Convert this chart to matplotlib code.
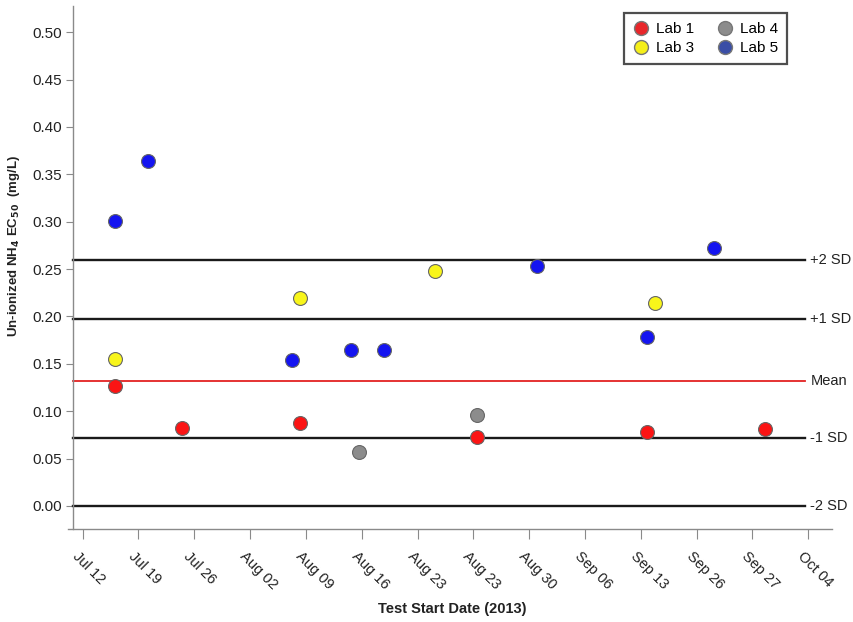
import matplotlib
matplotlib.use("Agg")
import matplotlib.pyplot as plt
from matplotlib.lines import Line2D
import matplotlib.transforms as mtransforms

plt.rcParams['font.family'] = ['Liberation Sans', 'DejaVu Sans']

# x positions are days after Jul 12, 2013
tick_labels = ["Jul 12", "Jul 19", "Jul 26", "Aug 02", "Aug 09", "Aug 16", "Aug 23",
               "Aug 23", "Aug 30", "Sep 06", "Sep 13", "Sep 26", "Sep 27", "Oct 04"]

lab1_x = [4.0, 12.5, 27.3, 49.5, 70.8, 85.6]
lab1_y = [0.127, 0.082, 0.088, 0.073, 0.078, 0.081]

lab3_x = [4.0, 27.3, 44.2, 71.8]
lab3_y = [0.1555, 0.219, 0.248, 0.214]

lab4_x = [34.65, 49.5]
lab4_y = [0.057, 0.096]

lab5_x = [4.0, 8.2, 26.2, 33.6, 37.8, 57.0, 70.8, 79.2]
lab5_y = [0.301, 0.364, 0.154, 0.165, 0.165, 0.253, 0.178, 0.272]

ref_names = ["+2 SD", "+1 SD", "Mean", "-1 SD", "-2 SD"]
ref_values = [0.2593, 0.197, 0.1316, 0.0721, 0.0]

fig = plt.figure(figsize=(8.54, 6.22), dpi=100)
ax = fig.add_axes([73.3 / 854, (622 - 529.3) / 622, (831.7 - 73.3) / 854, (529.3 - 5.7) / 622])

tick_pos = [i * 7 for i in range(len(tick_labels))]
x0, x1 = -0.168 * 7, 13.42 * 7
ax.set_xlim(x0, x1)
ax.set_ylim(-0.0246, 0.528)

# reference lines end just before the right edge
line_end = 12.94 * 7
for name, val in zip(ref_names, ref_values):
    col = '#e32222' if name == "Mean" else '#1a1a1a'
    lw = 1.3 if name == "Mean" else 1.7
    ax.plot([x0, line_end], [val, val], color=col, lw=lw, zorder=2, clip_on=False)
    ax.text(line_end + 0.1 * 7, val, name, ha='left', va='center', fontsize=10.5, color='#222222')

pt = dict(s=100, edgecolors='#666666', linewidths=0.8, zorder=3)
ax.scatter(lab1_x, lab1_y, color='#fb1414', **pt)
ax.scatter(lab3_x, lab3_y, color='#f8f51a', **pt)
ax.scatter(lab4_x, lab4_y, color='#8c8c8c', **pt)
ax.scatter(lab5_x, lab5_y, color='#1414f0', **pt)

for s in ['top', 'right']:
    ax.spines[s].set_visible(False)
for s in ['left', 'bottom']:
    ax.spines[s].set_color('#8a8a8a')
    ax.spines[s].set_linewidth(1.0)
# x axis line starts a few pixels left of the y axis
ax.spines['bottom'].set_bounds(x0 - 0.7, x1)

ax.set_yticks([i * 0.05 for i in range(11)])
ax.set_yticklabels(["%.2f" % (i * 0.05) for i in range(11)])
ax.set_xticks(tick_pos)
ax.set_xticklabels(tick_labels)
ax.tick_params(axis='y', colors='#8a8a8a', labelcolor='#222222', labelsize=11, length=5, pad=3)
ax.tick_params(axis='x', colors='#8a8a8a', labelcolor='#222222', labelsize=10.5, length=7, pad=2)

offset = mtransforms.ScaledTranslation(-8 / 100, -12 / 100, fig.dpi_scale_trans)
for lbl in ax.get_xticklabels():
    lbl.set_rotation(-45)
    lbl.set_ha('left')
    lbl.set_va('center')
    lbl.set_rotation_mode('anchor')
    lbl.set_transform(lbl.get_transform() + offset)

ax.set_xlabel("Test Start Date (2013)", fontsize=10.5, fontweight='bold', color='#222222')
ax.xaxis.set_label_coords(0.5, -0.139)
ax.set_ylabel(r"Un-ionized NH$_\mathbf{4}$ EC$_\mathbf{50}$  (mg/L)", fontsize=9.5,
              fontweight='bold', color='#222222')
ax.yaxis.set_label_coords(-0.068, 0.541)

handles = [
    Line2D([], [], ls='none', marker='o', ms=10, mfc='#e8262a', mec='#777777', label='Lab 1'),
    Line2D([], [], ls='none', marker='o', ms=10, mfc='#f5ef1a', mec='#777777', label='Lab 3'),
    Line2D([], [], ls='none', marker='o', ms=10, mfc='#8c8c8c', mec='#777777', label='Lab 4'),
    Line2D([], [], ls='none', marker='o', ms=10, mfc='#3a4ea6', mec='#777777', label='Lab 5'),
]
leg = ax.legend(handles=handles, ncol=2, loc='upper left',
                bbox_to_anchor=((624 - 73.3) / (831.7 - 73.3), (529.3 - 13.3) / (529.3 - 5.7)),
                frameon=True, fancybox=False, fontsize=11, handletextpad=0.5,
                columnspacing=1.5, borderpad=0.6, labelspacing=0.3, handlelength=1.0,
                borderaxespad=0)
leg.get_frame().set_edgecolor('#222222')
leg.get_frame().set_linewidth(1.6)

fig.savefig("out.png", dpi=100)
